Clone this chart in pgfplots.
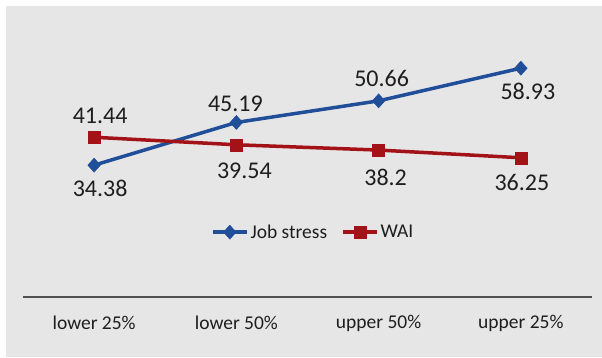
\documentclass[border=0pt]{standalone}
\usepackage{pgfplots}
\usepackage{pgfplotstable}
\pgfplotsset{compat=1.18}
\usepackage{fontspec}
\setmainfont{Carlito}
\definecolor{panel}{RGB}{230,230,230}
\definecolor{jsblue}{RGB}{32,78,152}
\definecolor{waired}{RGB}{162,18,22}
\definecolor{txt}{RGB}{30,30,30}
\definecolor{axln}{RGB}{80,80,80}

\pgfplotstableread{
x y dx dy lab
0 34.38 6 -23.5 34.38
1 45.19 -1 18.5 45.19
2 50.66 3 22.5 50.66
3 58.93 7 -23 58.93
}\jobstress
\pgfplotstableread{
x y dx dy lab
0 41.44 6 21.5 41.44
1 39.54 8 -26 39.54
2 38.2 7 -27 38.2
3 36.25 1 -25 36.25
}\wai

\begin{document}
\begin{tikzpicture}
\fill[white] (-23pt,-60pt) rectangle (579pt,297pt);
\fill[panel] (-17pt,-60pt) rectangle (579pt,291pt);
\path[use as bounding box] (-23pt,-60pt) rectangle (579pt,297pt);
\begin{axis}[
  at={(0pt,0pt)}, anchor=south west,
  scale only axis,
  width=569pt, height=272.55pt,
  xmin=-0.5, xmax=3.5,
  ymin=1, ymax=70,
  axis x line*=bottom,
  axis y line=none,
  axis line style={axln, line width=1.2pt, -},
  xtick={0,1,2,3},
  xticklabels={lower 25\%, lower 50\%, upper 50\%, upper 25\%},
  major tick length=0pt,
  xticklabel style={font=\fontsize{19.5}{22}\selectfont, text=txt, yshift=-15pt},
  clip=false,
  legend columns=2,
  legend style={at={(0.51,0.238)}, anchor=center, draw=none, fill=none,
    font=\fontsize{19.5}{22}\selectfont, text=txt,
    /tikz/every even column/.append style={column sep=12pt}},
  legend image code/.code={\draw[mark repeat=2,mark phase=2] plot coordinates {(0pt,0pt) (17pt,0pt) (34pt,0pt)};},
  nodes near coords,
  point meta=explicit symbolic,
  every node near coord/.append style={anchor=center, font=\fontsize{24}{26}\selectfont, text=txt, xshift=\mydx pt, yshift=\mydy pt},
]
\addplot[jsblue, line width=3.5pt, mark=diamond*, mark size=7pt, mark options={xscale=1.2, line width=0.5pt},
  visualization depends on={\thisrow{dx} \as \mydx},
  visualization depends on={\thisrow{dy} \as \mydy}]
  table[x=x, y=y, meta=lab] {\jobstress};
\addlegendentry{Job stress}
\addplot[waired, line width=3.5pt, mark=square*, mark size=6pt, mark options={line width=0.5pt},
  visualization depends on={\thisrow{dx} \as \mydx},
  visualization depends on={\thisrow{dy} \as \mydy}]
  table[x=x, y=y, meta=lab] {\wai};
\addlegendentry{WAI}
\end{axis}
\end{tikzpicture}
\end{document}
